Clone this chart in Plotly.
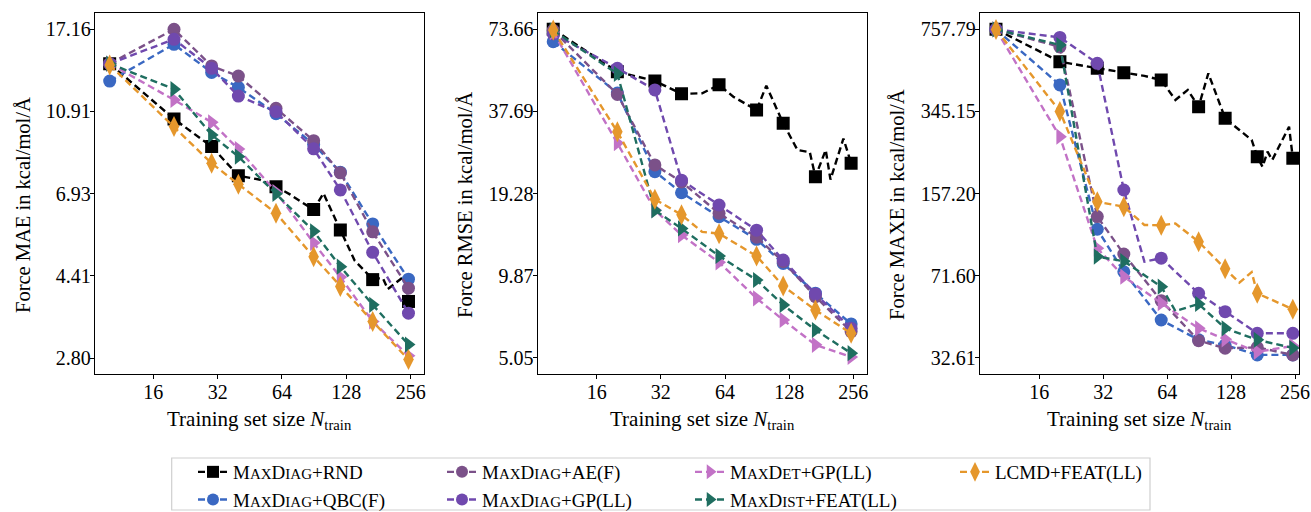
import re
import math
import plotly.graph_objects as go

N = None
# training-set sizes on the evaluated grid and where markers are drawn
GRID_N = [10, 20, 30, 40, 50, 60, 70, 80, 90, 100, 120, 140, 160, 170, 180, 190, 200, 220, 230, 240, 250]
MARK_N = [10, 20, 30, 40, 60, 90, 120, 170, 250]

METHODS = ["MaxDiag+RND", "MaxDiag+QBC(F)", "MaxDiag+AE(F)", "MaxDiag+GP(LL)",
           "MaxDet+GP(LL)", "MaxDist+FEAT(LL)", "LCMD+FEAT(LL)"]

# ---- Force MAE ----
MAE_RND = [14.2, 10.47, 8.99, 7.66, 7.5, 7.21, 6.9, 6.59, 6.36, 6.95, 5.68, 4.8, 4.47, 4.32, 4.35, 4.35, 4.1, 4.25, N, 4.41, 3.83]
MAE_QBC = [12.9, 15.8, 13.53, 12.46, N, 10.78, N, N, 9.1, N, 7.81, N, N, 5.87, N, N, N, N, N, N, 4.33]
MAE_AE = [14.2, 17.16, 14.02, 13.26, N, 11.1, N, N, 9.29, N, 7.78, N, N, 5.62, N, N, N, N, N, N, 4.12]
MAE_GP = [14.2, 16.24, 13.84, 11.88, N, 10.9, N, N, 8.88, N, 7.08, N, N, 5.02, N, N, N, N, N, N, 3.59]
MAE_DET = [14.2, 11.63, 10.28, 8.87, N, 7.0, N, N, 5.29, N, 4.38, N, N, 3.43, N, N, N, N, N, N, 2.84]
MAE_DIST = [14.2, 12.34, 9.59, 8.51, N, 6.93, N, N, 5.64, N, 4.64, N, N, 3.76, N, N, N, N, N, N, 3.02]
MAE_LCMD = [14.1, 10.04, 8.2, 7.31, N, 6.23, N, N, 4.9, N, 4.16, N, N, 3.43, N, N, N, N, N, N, 2.78]

# ---- Force RMSE ----
RMSE_RND = [73.66, 52.1, 48.3, 43.5, 43.7, 46.8, 42.5, 40.0, 38.1, 46.5, 34.2, 27.5, 27.0, 22.1, N, 27.5, 21.6, N, 30.2, N, 24.7]
RMSE_QBC = [66.6, 43.8, 23.05, 19.4, N, 15.95, N, N, 13.27, N, 10.9, N, N, 8.55, N, N, N, N, N, N, 6.65]
RMSE_AE = [73.0, 43.3, 24.35, 21.2, N, 16.4, N, N, 13.5, N, 11.05, N, N, 8.31, N, N, N, N, N, N, 6.25]
RMSE_GP = [71.0, 53.6, 44.9, 21.5, N, 17.56, N, N, 14.3, N, 11.2, N, N, 8.5, N, N, N, N, N, N, 6.42]
RMSE_DET = [72.0, 29.1, 16.85, 13.74, N, 11.0, N, N, 8.2, N, 6.87, N, N, 5.61, N, N, N, N, N, N, 5.08]
RMSE_DIST = [73.0, 51.2, 16.8, 14.5, N, 11.58, N, N, 9.52, N, 7.77, N, N, 6.33, N, N, N, N, N, N, 5.24]
RMSE_LCMD = [73.3, 31.9, 18.4, 16.2, 14.1, 13.9, N, N, 11.58, N, 9.06, N, N, 7.45, N, N, N, N, N, N, 6.16]

# ---- Force MAXE ----
MAXE_RND = [757.79, 555.6, 521.9, 500.0, 485.0, 466.0, 385.0, 424.0, 360.8, 497.0, 323.0, 288.8, 262.5, 223.7, 203.0, 234.6, 216.8, N, N, 298.0, 220.3]
MAXE_QBC = [757.0, 444.7, 111.6, 74.3, N, 46.8, N, N, 38.7, N, 36.85, N, N, 33.5, N, N, N, N, N, N, 33.5]
MAXE_AE = [757.0, 640.0, 126.0, 88.0, N, 56.3, N, N, 38.4, N, 35.7, N, N, 36.0, N, N, N, N, N, N, 33.5]
MAXE_GP = [757.0, 701.0, 547.0, 162.6, 81.8, 84.6, N, N, 60.4, N, 50.7, N, N, 41.2, N, N, N, N, N, N, 41.2]
MAXE_DET = [757.0, 270.9, 93.0, 70.9, N, 55.0, N, N, 43.2, N, 38.9, N, N, 34.5, N, N, N, N, N, N, 36.5]
MAXE_DIST = [757.0, 652.0, 85.9, 82.2, N, 64.4, 51.0, N, 54.6, N, 43.2, N, N, 38.7, N, N, N, N, N, N, 35.8]
MAXE_LCMD = [757.0, 345.0, 145.3, 138.5, 116.3, 116.0, 118.0, N, 99.0, N, 76.5, 66.9, 74.0, 60.4, N, N, N, N, N, N, 51.9]

MAE_TICKS = [2.80, 4.41, 6.93, 10.91, 17.16]
RMSE_TICKS = [5.05, 9.87, 19.28, 37.69, 73.66]
MAXE_TICKS = [32.61, 71.60, 157.20, 345.15, 757.79]
X_TICKS = [16, 32, 64, 128, 256]

Y_TITLES = ["Force MAE in kcal/mol/Å", "Force RMSE in kcal/mol/Å", "Force MAXE in kcal/mol/Å"]
X_TITLE = "Training set size <i>N</i><sub>train</sub>"

PANELS = [
    [MAE_RND, MAE_QBC, MAE_AE, MAE_GP, MAE_DET, MAE_DIST, MAE_LCMD],
    [RMSE_RND, RMSE_QBC, RMSE_AE, RMSE_GP, RMSE_DET, RMSE_DIST, RMSE_LCMD],
    [MAXE_RND, MAXE_QBC, MAXE_AE, MAXE_GP, MAXE_DET, MAXE_DIST, MAXE_LCMD],
]
TICKS = [MAE_TICKS, RMSE_TICKS, MAXE_TICKS]

# ---- style ----
COLORS = ["#000000", "#3a68c2", "#7b5189", "#7049ae", "#c272c6", "#1f6e60", "#e5972c"]
SYMBOLS = ["square", "circle", "circle", "circle", "triangle-right", "triangle-right", "diamond-tall"]
MSIZES = [13, 13, 13, 13, 14, 14, 15]
FONT = "Liberation Serif"
W, H = 1311, 512

# pixel layout of the three axes boxes
X_PX = [(95, 424), (537.7, 867.3), (980, 1299.3)]
Y_PX = (13.3, 374)
# x ranges as log2 values at the box edges
X_LOG2 = [(3.094, 8.207), (3.080, 8.218), (3.072, 8.067)]
# y ranges (log10) at the box edges
Y_LOG10 = [(0.4096, 1.2728), (0.6455, 1.9239), (1.4456, 2.9461)]
YTITLE_X = [23, 465, 897]


def smallcaps(s, small=15):
    out = []
    for m in re.finditer(r"[a-z]+|[^a-z]+", s):
        t = m.group(0)
        if t.islower():
            out.append('<span style="font-size:%dpx">%s</span>' % (small, t.upper()))
        else:
            out.append(t)
    return "".join(out)


fig = go.Figure()
dash = "7px,4px"

for p in range(3):
    xa = "x" if p == 0 else "x%d" % (p + 1)
    ya = "y" if p == 0 else "y%d" % (p + 1)
    for i, vals in enumerate(PANELS[p]):
        sizes = [MSIZES[i] if n in MARK_N and v is not None else 0 for n, v in zip(GRID_N, vals)]
        fig.add_trace(go.Scatter(
            x=GRID_N, y=vals, mode="lines+markers", connectgaps=True,
            line=dict(color=COLORS[i], width=2.4, dash=dash),
            marker=dict(symbol=SYMBOLS[i], size=sizes, color=COLORS[i], opacity=1,
                        line=dict(width=0)),
            xaxis=xa, yaxis=ya, showlegend=False, hoverinfo="skip"))

# legend entries, column-major in 4 legends
LEG_COL = [0, 0, 1, 1, 2, 2, 3]
LEG_TEXT_X = [230, 479, 727, 992]
for i, name in enumerate(METHODS):
    lg = "legend" if LEG_COL[i] == 0 else "legend%d" % (LEG_COL[i] + 1)
    fig.add_trace(go.Scatter(
        x=[None], y=[None], mode="lines+markers", name=smallcaps(name),
        line=dict(color=COLORS[i], width=2.4, dash=dash),
        marker=dict(symbol=SYMBOLS[i], size=MSIZES[i] - 1, color=COLORS[i], opacity=1,
                    line=dict(width=0)),
        legend=lg, showlegend=True))

layout = dict(
    width=W, height=H, margin=dict(l=0, r=0, t=0, b=0, autoexpand=False),
    paper_bgcolor="white", plot_bgcolor="white",
    font=dict(family=FONT, size=18, color="black"),
)

ydom = [1 - Y_PX[1] / H, 1 - Y_PX[0] / H]
for p in range(3):
    sx = "xaxis" if p == 0 else "xaxis%d" % (p + 1)
    sy = "yaxis" if p == 0 else "yaxis%d" % (p + 1)
    ya = "y" if p == 0 else "y%d" % (p + 1)
    xa = "x" if p == 0 else "x%d" % (p + 1)
    layout[sx] = dict(
        type="log", domain=[X_PX[p][0] / W, X_PX[p][1] / W],
        range=[X_LOG2[p][0] * math.log10(2), X_LOG2[p][1] * math.log10(2)],
        tickvals=X_TICKS, ticktext=[str(t) for t in X_TICKS],
        showgrid=False, zeroline=False, showline=True, linecolor="black", linewidth=1.3,
        mirror=True, ticks="outside", ticklen=4, tickwidth=1, tickcolor="black",
        ticklabelstandoff=-4, tickfont=dict(size=20), anchor=ya, automargin=False)
    layout[sy] = dict(
        type="log", domain=ydom, range=list(Y_LOG10[p]),
        tickvals=TICKS[p], ticktext=["%.2f" % t for t in TICKS[p]],
        showgrid=False, zeroline=False, showline=True, linecolor="black", linewidth=1.3,
        mirror=True, ticks="outside", ticklen=4, tickwidth=1, tickcolor="black",
        ticklabelstandoff=-5, tickfont=dict(size=20), anchor=xa, automargin=False)

ann = []
for p in range(3):
    ann.append(dict(x=(X_PX[p][0] + X_PX[p][1]) / 2 / W, y=1 - 420 / H, xref="paper", yref="paper",
                    text=X_TITLE, showarrow=False, font=dict(size=21), xanchor="center", yanchor="middle"))
    ann.append(dict(x=YTITLE_X[p] / W, y=1 - 205 / H, xref="paper", yref="paper",
                    text=Y_TITLES[p], showarrow=False, textangle=-90, font=dict(size=20.5),
                    xanchor="center", yanchor="middle"))
layout["annotations"] = ann

for c in range(4):
    key = "legend" if c == 0 else "legend%d" % (c + 1)
    layout[key] = dict(x=(LEG_TEXT_X[c] - 37) / W, y=1 - 453 / H, xanchor="left", yanchor="top",
                       xref="container", yref="container",
                       orientation="v", bgcolor="rgba(0,0,0,0)", borderwidth=0,
                       font=dict(family=FONT, size=19, color="black"), tracegroupgap=0,
                       itemwidth=30)

layout["shapes"] = [dict(type="rect", xref="paper", yref="paper",
                         x0=171.7 / W, x1=1150 / W, y0=1 - 510 / H, y1=1 - 458 / H,
                         line=dict(color="#cfcfcf", width=1.2), fillcolor="rgba(0,0,0,0)")]

fig.update_layout(**layout)
fig.write_html("out.html")
